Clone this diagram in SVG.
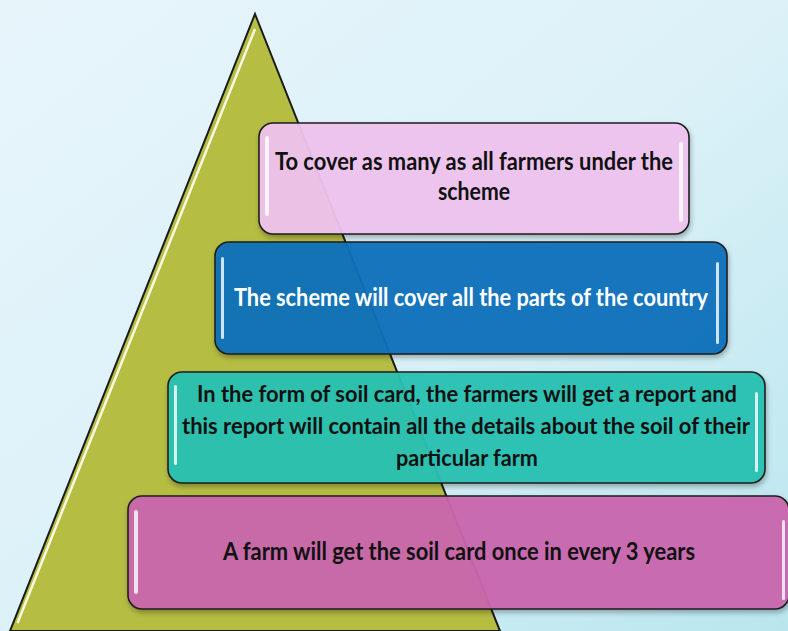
<svg xmlns="http://www.w3.org/2000/svg" width="788" height="631" viewBox="0 0 788 631">
<defs>
<linearGradient id="bg" x1="0" y1="0" x2="1" y2="1">
<stop offset="0" stop-color="#E7F5FB"/>
<stop offset="0.5" stop-color="#DCF1F8"/>
<stop offset="1" stop-color="#B9E6EE"/>
</linearGradient>
<filter id="sh" x="-5%" y="-10%" width="110%" height="130%">
<feDropShadow dx="1" dy="3" stdDeviation="2.5" flood-color="#000" flood-opacity="0.3"/>
</filter>
<style>
.box{stroke:#1e1e1e;stroke-width:1.6;fill-opacity:0.94;filter:url(#sh)}
.hl{fill:#FFFFFF;opacity:0.8}
.t{font-family:Lato,"Open Sans","Liberation Sans",sans-serif;font-weight:bold;font-size:25px;text-anchor:middle}
.s{font-size:23px}
.dk{fill:#111}
.wt{fill:#FFFFFF}
</style>
</defs>
<rect width="788" height="631" fill="url(#bg)"/>
<g id="pyramid">
<polygon points="255,14 500,631 10,631" fill="#B5BD43" stroke="#1a1a1a" stroke-width="2"/>
<line x1="255" y1="29" x2="17.5" y2="623" stroke="#FFFFF0" stroke-width="2.5" opacity="0.9"/>
</g>
<g id="box1">
<rect class="box" x="259" y="123" width="430" height="111" rx="14" fill="#EFC3EF"/>
<rect class="hl" x="265" y="136" width="4" height="80" rx="2"/>
<rect class="hl" x="679" y="142" width="4" height="80" rx="2"/>
<text class="t dk" x="474" y="170" textLength="398" lengthAdjust="spacingAndGlyphs">To cover as many as all farmers under the</text>
<text class="t dk" x="474" y="200" textLength="72" lengthAdjust="spacingAndGlyphs">scheme</text>
</g>
<g id="box2">
<rect class="box" x="215" y="242" width="512" height="112" rx="14" fill="#0F71BB"/>
<rect class="hl" x="221" y="257" width="3" height="82" rx="1.5" fill="#A8E4FF"/>
<rect class="hl" x="716" y="262" width="3" height="82" rx="1.5" fill="#A8E4FF"/>
<text class="t wt" x="471" y="306" textLength="474" lengthAdjust="spacingAndGlyphs">The scheme will cover all the parts of the country</text>
</g>
<g id="box3">
<rect class="box" x="168" y="372" width="597" height="111" rx="14" fill="#27C1B2"/>
<rect class="hl" x="174" y="385" width="3" height="80" rx="1.5"/>
<rect class="hl" x="755" y="392" width="3" height="80" rx="1.5"/>
<text class="t s dk" x="467" y="402" textLength="540" lengthAdjust="spacingAndGlyphs">In the form of soil card, the farmers will get a report and</text>
<text class="t s dk" x="466" y="434" textLength="568" lengthAdjust="spacingAndGlyphs">this report will contain all the details about the soil of their</text>
<text class="t s dk" x="467" y="466" textLength="142" lengthAdjust="spacingAndGlyphs">particular farm</text>
</g>
<g id="box4">
<rect class="box" x="128" y="496" width="661" height="113" rx="14" fill="#CB66AE"/>
<rect class="hl" x="134" y="510" width="4" height="84" rx="2"/>
<rect class="hl" x="782" y="520" width="3" height="80" rx="1.5"/>
<text class="t dk" x="459" y="560" textLength="472" lengthAdjust="spacingAndGlyphs">A farm will get the soil card once in every 3 years</text>
</g>
</svg>
